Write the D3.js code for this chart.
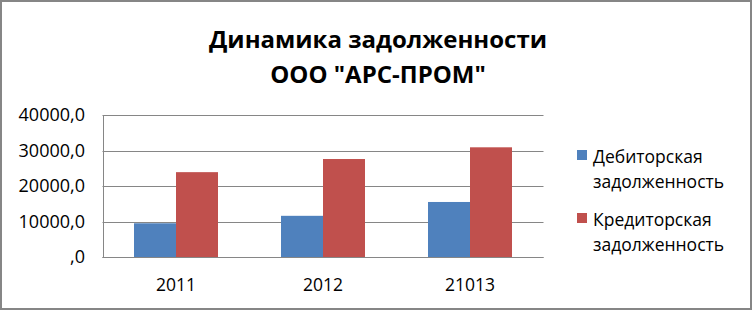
<!DOCTYPE html>
<html>
<head>
<meta charset="utf-8">
<script src="https://cdn.jsdelivr.net/npm/d3@7"></script>
<style>
  body { margin: 0; background: #fff; }
  text { font-family: "Open Sans", sans-serif; fill: #000; }
</style>
</head>
<body>
<div id="chart"></div>
<script>
var WD = 752, HT = 310
var margin = { left: 102.5, right: 208.5, top: 115, bottom: 53 }

var years = ["2011", "2012", "21013"]
var seriesNames = ["Дебиторская задолженность", "Кредиторская задолженность"]
var debit = [9500, 11600, 15500]
var credit = [23900, 27600, 30900]
var yTicks = [0, 10000, 20000, 30000, 40000]
var titleLines = ["Динамика задолженности", "ООО \"АРС-ПРОМ\""]
var legendLines = [["Дебиторская", "задолженность"], ["Кредиторская", "задолженность"]]

var colors = d3.scaleOrdinal().domain(seriesNames).range(["#4F81BD", "#C0504D"])

var table = years.map(function(y, i) {
  return { year: y, values: [debit[i], credit[i]] }
})

var svg = d3.select("#chart").append("svg")
  .attr("width", WD)
  .attr("height", HT)

// outer frame
svg.append("rect")
  .attr("x", 1).attr("y", 1)
  .attr("width", WD - 2).attr("height", HT - 2)
  .attr("fill", "#fff")
  .attr("stroke", "#868686")
  .attr("stroke-width", 2)

var x0 = d3.scaleBand().domain(years).range([margin.left, WD - margin.right])
var x1 = d3.scaleBand().domain([0, 1]).range([0, x0.bandwidth()]).paddingOuter(0.75)
var y = d3.scaleLinear().domain([0, 40000]).range([HT - margin.bottom, margin.top])

// gridlines
svg.append("g").selectAll("line")
  .data(yTicks)
  .enter().append("line")
    .attr("x1", margin.left).attr("x2", WD - margin.right)
    .attr("y1", function(d) { return Math.round(y(d)) + 0.5 })
    .attr("y2", function(d) { return Math.round(y(d)) + 0.5 })
    .attr("stroke", "#868686")
    .attr("stroke-width", 1)

// value axis line
svg.append("line")
  .attr("x1", Math.round(margin.left) + 0.5).attr("x2", Math.round(margin.left) + 0.5)
  .attr("y1", Math.round(y(40000)) + 0.5).attr("y2", Math.round(y(0)) + 0.5)
  .attr("stroke", "#868686")

// y labels
var fmt = function(d) { return d === 0 ? ",0" : d + ",0" }
svg.append("g").selectAll("text")
  .data(yTicks)
  .enter().append("text")
    .attr("x", 85)
    .attr("y", function(d) { return y(d) + 6 })
    .attr("text-anchor", "end")
    .style("font-size", "18px")
    .text(fmt)

// bars
var groups = svg.append("g").selectAll("g")
  .data(table)
  .enter().append("g")
    .attr("transform", function(d) { return "translate(" + x0(d.year) + ",0)" })

groups.selectAll("rect")
  .data(function(d) { return d.values.map(function(v, i) { return { i: i, v: v } }) })
  .enter().append("rect")
    .attr("x", function(d) { return x1(d.i) })
    .attr("width", x1.bandwidth())
    .attr("y", function(d) { return y(d.v) })
    .attr("height", function(d) { return y(0) - y(d.v) })
    .attr("fill", function(d) { return colors(seriesNames[d.i]) })

// baseline on top of bars
svg.append("line")
  .attr("x1", margin.left).attr("x2", WD - margin.right)
  .attr("y1", Math.round(y(0)) + 0.5).attr("y2", Math.round(y(0)) + 0.5)
  .attr("stroke", "#868686")

// category labels
svg.append("g").selectAll("text")
  .data(years)
  .enter().append("text")
    .attr("x", function(d) { return x0(d) + x0.bandwidth() / 2 })
    .attr("y", 291)
    .attr("text-anchor", "middle")
    .style("font-size", "17.5px")
    .text(function(d) { return d })

// title
svg.append("g").selectAll("text")
  .data(titleLines)
  .enter().append("text")
    .attr("x", 378)
    .attr("y", function(d, i) { return 48 + i * 35 })
    .attr("text-anchor", "middle")
    .style("font-size", "24px")
    .style("font-weight", "bold")
    .text(function(d) { return d })

// legend
var legend = svg.append("g").selectAll("g")
  .data(seriesNames)
  .enter().append("g")
    .attr("transform", function(d, i) { return "translate(577," + (150 + i * 63) + ")" })

legend.append("rect")
  .attr("width", 10).attr("height", 10)
  .attr("fill", function(d) { return colors(d) })

legend.each(function(d, i) {
  d3.select(this).selectAll("text")
    .data(legendLines[i])
    .enter().append("text")
      .attr("x", 16)
      .attr("y", function(t, j) { return 13 + j * 25 })
      .style("font-size", "17.5px")
      .text(function(t) { return t })
})
</script>
</body>
</html>
